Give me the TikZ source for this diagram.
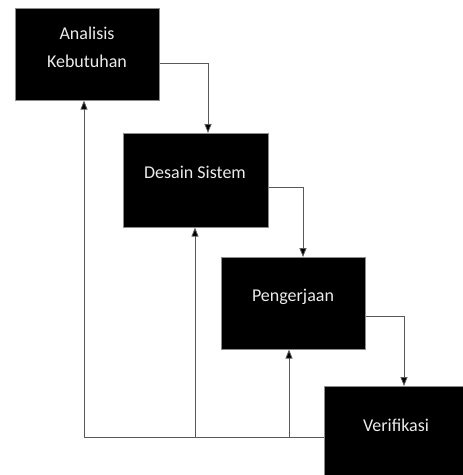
\documentclass[tikz,border=0pt]{standalone}
\usepackage{fontspec}
\setmainfont{Carlito}
\usetikzlibrary{arrows.meta,calc}
\begin{document}
\begin{tikzpicture}[x=1pt,y=-1pt,
  box/.style={draw=black!45, line width=0.6pt, fill=black, minimum width=144pt, minimum height=92pt, inner sep=0pt, anchor=north west},
  boxtext/.style={text=black!8, font=\fontsize{18}{28}\selectfont, align=center, inner sep=0pt},
  conn/.style={draw=black!65, line width=0.8pt},
  arr/.style={conn, -{Triangle[length=9pt,width=7pt,fill=black]}}]
\useasboundingbox (0,0) rectangle (463,475);
\clip (0,0) rectangle (463,475);
\node[box] (b1) at (15,8) {};
\node[box, minimum width=145pt, minimum height=94pt] (b2) at (123,133) {};
\node[box] (b3) at (221,257) {};
\node[box] (b4) at (324,386) {};
\node[boxtext] (t1) at (87,47) {Analisis\\Kebutuhan};
\node[boxtext] (t2) at (195,172) {Desain Sistem};
\node[boxtext] (t3) at (293,297) {Pengerjaan};
\node[boxtext] (t4) at (396,425) {Verifikasi};
% forward flow
\coordinate (p1) at (208,63);
\coordinate (p2) at (303,187);
\coordinate (p3) at (404,316);
\draw[arr] (b1.east |- p1) -| (b2.north -| p1);
\draw[arr] (b2.east |- p2) -| (b3.north -| p2);
\draw[arr] (b3.east |- p3) -| (b4.north -| p3);
% feedback
\coordinate (j1) at (84,437);
\coordinate (j2) at (195,437);
\coordinate (j3) at (289,437);
\draw[conn] (j1) -- (b4.west |- j1);
\draw[arr] (j1) -- (b1.south -| j1);
\draw[arr] (j2) -- (b2.south -| j2);
\draw[arr] (j3) -- (b3.south -| j3);
\end{tikzpicture}
\end{document}
